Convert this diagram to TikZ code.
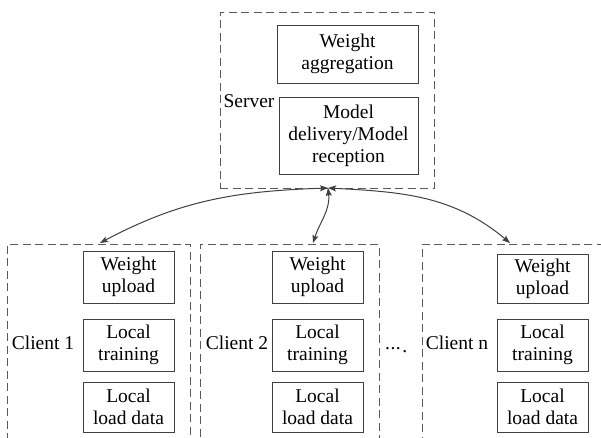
\documentclass[tikz,border=0pt]{standalone}
\usepackage{fontspec}
\setmainfont{Liberation Serif}
\usetikzlibrary{arrows.meta}
\definecolor{boxline}{HTML}{404040}
\definecolor{dashline}{HTML}{5A5A5A}
\begin{document}
\begin{tikzpicture}[x=1pt,y=1pt,
  txt/.style={font=\fontsize{19.5}{22}\selectfont, align=center, inner sep=0pt},
  solidbox/.style={draw=boxline, line width=0.9pt, txt},
  dashbox/.style={draw=dashline, line width=0.9pt, dash pattern=on 8pt off 4.5pt},
  link/.style={draw=boxline, line width=1pt, {Stealth[length=8pt,width=6pt,inset=1.5pt]}-{Stealth[length=8pt,width=6pt,inset=1.5pt]}}
]
\useasboundingbox (0,0) rectangle (601,437);
\clip (0,0) rectangle (601,437);
% server
\node[dashbox, minimum width=214, minimum height=176, inner sep=0pt] (server) at (327,337) {};
\node[solidbox, minimum width=141, minimum height=58] (agg) at (347.5,383) {Weight\\aggregation};
\node[solidbox, minimum width=139, minimum height=77] (deliv) at (348.5,301.5) {Model\\delivery/Model\\reception};
\node[txt] (slabel) at (249,336) {Server};
\coordinate (hub) at (328,249);
% clients
\node[dashbox, minimum width=183, minimum height=220, inner sep=0pt, anchor=north west] (c1) at (7,193) {};
\node[dashbox, minimum width=179, minimum height=220, inner sep=0pt, anchor=north west] (c2) at (200,193) {};
\node[dashbox, minimum width=200, minimum height=220, inner sep=0pt, anchor=north west] (cn) at (422,193) {};
% client 1
\node[solidbox, minimum width=91, minimum height=52] (w1) at (128.5,160) {Weight\\upload};
\node[solidbox, minimum width=91, minimum height=52] (t1) at (128.5,92) {Local\\training};
\node[solidbox, minimum width=91, minimum height=50] (l1) at (128.5,30) {Local\\load data};
\node[txt] (cl1) at (43,94) {Client 1};
% client 2
\node[solidbox, minimum width=91, minimum height=52] (w2) at (317.5,160) {Weight\\upload};
\node[solidbox, minimum width=91, minimum height=52] (t2) at (317.5,92) {Local\\training};
\node[solidbox, minimum width=91, minimum height=50] (l2) at (317.5,30) {Local\\load data};
\node[txt] (cl2) at (237,94) {Client 2};
% client n
\node[solidbox, minimum width=91, minimum height=49] (wn) at (542.5,158.5) {Weight\\upload};
\node[solidbox, minimum width=91, minimum height=52] (tn) at (542.5,92) {Local\\training};
\node[solidbox, minimum width=91, minimum height=50] (ln) at (542.5,30) {Local\\load data};
\node[txt] (cln) at (457,94) {Client n};
% dots
\node[txt, anchor=base west] (dots) at (385,85) {\raisebox{3pt}{.\kern0.5pt.\kern0.5pt.}\kern1.5pt.};
% connectors
\coordinate (e1) at (100,194);
\coordinate (e2) at (313,194);
\coordinate (en) at (510,194);
\draw[link] (e1) to[out=28, in=182] (hub);
\draw[link] (hub) to[out=-84, in=72] (e2);
\draw[link] (hub) to[out=-3, in=140] (en);
\end{tikzpicture}
\end{document}
